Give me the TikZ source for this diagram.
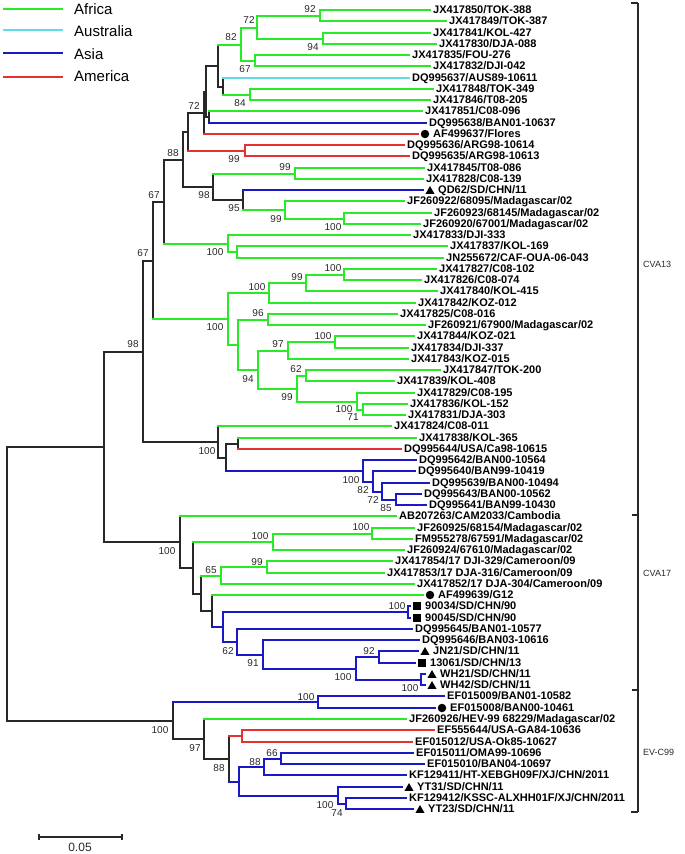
\documentclass[tikz,border=0pt]{standalone}
\usepackage{fontspec}
\setmainfont{Liberation Sans}
\usetikzlibrary{calc,shapes.geometric}
\definecolor{cgC}{RGB}{40,235,40}
\definecolor{ccC}{RGB}{95,222,232}
\definecolor{cbC}{RGB}{25,25,200}
\definecolor{crC}{RGB}{228,50,50}
\definecolor{ckC}{RGB}{40,40,40}
\definecolor{txC}{RGB}{40,40,40}
\tikzset{
  br/.style={line width=1.2pt,line cap=rect},
  cg/.style={draw=cgC}, cc/.style={draw=ccC}, cb/.style={draw=cbC},
  cr/.style={draw=crC}, ck/.style={draw=ckC},
  leaf/.style={anchor=west,inner sep=0pt,text height=7.9pt,text depth=0pt,
    font=\fontsize{11}{13}\selectfont\bfseries,text=black},
  bsl/.style={inner sep=0pt,font=\fontsize{10}{12}\selectfont,text=txC},
  mcirc/.style={circle,fill=black,inner sep=0pt,minimum size=8.5pt},
  msq/.style={rectangle,fill=black,inner sep=0pt,minimum size=8pt},
  mtri/.style={regular polygon,regular polygon sides=3,fill=black,inner sep=0pt,minimum size=10.5pt,yshift=-1.3pt},
  lgline/.style={line width=1.3pt},
  lgtext/.style={anchor=west,inner sep=0pt,text height=10.7pt,text depth=0pt,font=\fontsize{15}{17}\selectfont},
  brk/.style={draw=ckC,line width=1.3pt},
  clade/.style={anchor=west,inner sep=0pt,text height=6.5pt,text depth=0pt,font=\fontsize{9}{11}\selectfont,text=txC},
}
\newcommand{\leafx}[4]{%
  \coordinate (#1) at ({#3},{round(10+(#2-1)*11.254)});
  \node[leaf] (t#1) at ([xshift=3pt]#1) {#4};}
\newcommand{\leafm}[5]{%
  \coordinate (#1) at ({#3},{round(10+(#2-1)*11.254)});
  \node[#4] (m#1) at ([xshift=7pt]#1) {};
  \node[leaf] (t#1) at ([xshift=15pt]#1) {#5};}
\newcommand{\edgex}[4]{%
  \draw[br,#3] (#1) -- (#1 |- #2);
  \draw[br,#4] (#1 |- #2) -- (#2);}
\newcommand{\inode}[7]{%
  \path let \p1=($(#3)!.5!(#4)$), \n1={round(-(\y1))} in coordinate (#1) at ({(#2)*1pt},{-\n1});
  \edgex{#1}{#3}{#5}{#6}\edgex{#1}{#4}{#5}{#7}}
\newcommand{\blab}[4]{\node[bsl] (#1) at (#2,#3) {#4};}
\begin{document}
\begin{tikzpicture}[x=1pt,y=-1pt]
\useasboundingbox (0,0) rectangle (685,854);
% ---------------- leaves
\leafx{L1}{1}{430}{JX417850/TOK-388}
\leafx{L2}{2}{446}{JX417849/TOK-387}
\leafx{L3}{3}{430}{JX417841/KOL-427}
\leafx{L4}{4}{436}{JX417830/DJA-088}
\leafx{L5}{5}{409}{JX417835/FOU-276}
\leafx{L6}{6}{430}{JX417832/DJI-042}
\leafx{L7}{7}{409}{DQ995637/AUS89-10611}
\leafx{L8}{8}{433}{JX417848/TOK-349}
\leafx{L9}{9}{430}{JX417846/T08-205}
\leafx{L10}{10}{422}{JX417851/C08-096}
\leafx{L11}{11}{426}{DQ995638/BAN01-10637}
\leafm{L12}{12}{418}{mcirc}{AF499637/Flores}
\leafx{L13}{13}{404}{DQ995636/ARG98-10614}
\leafx{L14}{14}{409}{DQ995635/ARG98-10613}
\leafx{L15}{15}{424}{JX417845/T08-086}
\leafx{L16}{16}{423}{JX417828/C08-139}
\leafm{L17}{17}{423}{mtri}{QD62/SD/CHN/11}
\leafx{L18}{18}{404}{JF260922/68095/Madagascar/02}
\leafx{L19}{19}{431}{JF260923/68145/Madagascar/02}
\leafx{L20}{20}{420}{JF260920/67001/Madagascar/02}
\leafx{L21}{21}{410}{JX417833/DJI-333}
\leafx{L22}{22}{447}{JX417837/KOL-169}
\leafx{L23}{23}{443}{JN255672/CAF-OUA-06-043}
\leafx{L24}{24}{436}{JX417827/C08-102}
\leafx{L25}{25}{421}{JX417826/C08-074}
\leafx{L26}{26}{437}{JX417840/KOL-415}
\leafx{L27}{27}{415}{JX417842/KOZ-012}
\leafx{L28}{28}{397}{JX417825/C08-016}
\leafx{L29}{29}{425}{JF260921/67900/Madagascar/02}
\leafx{L30}{30}{414}{JX417844/KOZ-021}
\leafx{L31}{31}{408}{JX417834/DJI-337}
\leafx{L32}{32}{408}{JX417843/KOZ-015}
\leafx{L33}{33}{440}{JX417847/TOK-200}
\leafx{L34}{34}{394}{JX417839/KOL-408}
\leafx{L35}{35}{414}{JX417829/C08-195}
\leafx{L36}{36}{407}{JX417836/KOL-152}
\leafx{L37}{37}{405}{JX417831/DJA-303}
\leafx{L38}{38}{391}{JX417824/C08-011}
\leafx{L39}{39}{416}{JX417838/KOL-365}
\leafx{L40}{40}{401}{DQ995644/USA/Ca98-10615}
\leafx{L41}{41}{416}{DQ995642/BAN00-10564}
\leafx{L42}{42}{415}{DQ995640/BAN99-10419}
\leafx{L43}{43}{429}{DQ995639/BAN00-10494}
\leafx{L44}{44}{421}{DQ995643/BAN00-10562}
\leafx{L45}{45}{426}{DQ995641/BAN99-10430}
\leafx{L46}{46}{396}{AB207263/CAM2033/Cambodia}
\leafx{L47}{47}{414}{JF260925/68154/Madagascar/02}
\leafx{L48}{48}{412}{FM955278/67591/Madagascar/02}
\leafx{L49}{49}{404}{JF260924/67610/Madagascar/02}
\leafx{L50}{50}{392}{JX417854/17 DJI-329/Cameroon/09}
\leafx{L51}{51}{384}{JX417853/17 DJA-316/Cameroon/09}
\leafx{L52}{52}{414}{JX417852/17 DJA-304/Cameroon/09}
\leafm{L53}{53}{423}{mcirc}{AF499639/G12}
\leafm{L54}{54}{410}{msq}{90034/SD/CHN/90}
\leafm{L55}{55}{410}{msq}{90045/SD/CHN/90}
\leafx{L56}{56}{412}{DQ995645/BAN01-10577}
\leafx{L57}{57}{419}{DQ995646/BAN03-10616}
\leafm{L58}{58}{418}{mtri}{JN21/SD/CHN/11}
\leafm{L59}{59}{415}{msq}{13061/SD/CHN/13}
\leafm{L60}{60}{425}{mtri}{WH21/SD/CHN/11}
\leafm{L61}{61}{425}{mtri}{WH42/SD/CHN/11}
\leafx{L62}{62}{444}{EF015009/BAN01-10582}
\leafm{L63}{63}{435}{mcirc}{EF015008/BAN00-10461}
\leafx{L64}{64}{406}{JF260926/HEV-99 68229/Madagascar/02}
\leafx{L65}{65}{434}{EF555644/USA-GA84-10636}
\leafx{L66}{66}{412}{EF015012/USA-Ok85-10627}
\leafx{L67}{67}{413}{EF015011/OMA99-10696}
\leafx{L68}{68}{424}{EF015010/BAN04-10697}
\leafx{L69}{69}{406}{KF129411/HT-XEBGH09F/XJ/CHN/2011}
\leafm{L70}{70}{402}{mtri}{YT31/SD/CHN/11}
\leafx{L71}{71}{406}{KF129412/KSSC-ALXHH01F/XJ/CHN/2011}
\leafm{L72}{72}{413}{mtri}{YT23/SD/CHN/11}
% ---------------- internal nodes: CVA13
\inode{n92}{320}{L1}{L2}{cg}{cg}{cg}
\inode{n94}{323}{L3}{L4}{cg}{cg}{cg}
\inode{n72a}{257}{n92}{n94}{cg}{cg}{cg}
\inode{n67a}{255}{L5}{L6}{cg}{cg}{cg}
\inode{n82}{241}{n72a}{n67a}{cg}{cg}{cg}
\inode{n84}{250}{L8}{L9}{cg}{cg}{cg}
\inode{nAUS}{223}{L7}{n84}{ck}{cc}{cg}
\inode{nA1}{218}{n82}{nAUS}{ck}{cg}{ck}
\inode{nB}{209}{L10}{L11}{ck}{cg}{cb}
\inode{nA}{206}{nA1}{nB}{ck}{ck}{ck}
\inode{nC}{204}{nA}{L12}{ck}{ck}{cr}
\inode{nARG}{245}{L13}{L14}{cr}{cr}{cr}
\inode{nD}{188}{nC}{nARG}{ck}{ck}{cr}
\inode{n99T}{295}{L15}{L16}{cg}{cg}{cg}
\inode{n100M}{344}{L19}{L20}{cg}{cg}{cg}
\inode{n99M}{285}{L18}{n100M}{cg}{cg}{cg}
\inode{n95}{243}{L17}{n99M}{ck}{cb}{cg}
\inode{n98b}{213}{n99T}{n95}{ck}{cg}{ck}
\inode{nE}{183}{nD}{n98b}{ck}{ck}{ck}
\inode{nKOL}{237}{L22}{L23}{cg}{cg}{cg}
\inode{n100D}{228}{L21}{nKOL}{cg}{cg}{cg}
\inode{nF}{164}{nE}{n100D}{ck}{ck}{cg}
\inode{n100C}{344}{L24}{L25}{cg}{cg}{cg}
\inode{n99C}{306}{n100C}{L26}{cg}{cg}{cg}
\inode{n100K}{269}{n99C}{L27}{cg}{cg}{cg}
\inode{n96}{268}{L28}{L29}{cg}{cg}{cg}
\inode{n100Z}{335}{L30}{L31}{cg}{cg}{cg}
\inode{n97}{288}{n100Z}{L32}{cg}{cg}{cg}
\inode{n62}{306}{L33}{L34}{cg}{cg}{cg}
\inode{n71}{363}{L36}{L37}{cg}{cg}{cg}
\inode{n100L}{357}{L35}{n71}{cg}{cg}{cg}
\inode{n99L}{297}{n62}{n100L}{cg}{cg}{cg}
\inode{n94L}{258}{n97}{n99L}{cg}{cg}{cg}
\inode{n238}{238}{n96}{n94L}{cg}{cg}{cg}
\inode{n100G}{228}{n100K}{n238}{cg}{cg}{cg}
\inode{nG}{153}{nF}{n100G}{ck}{ck}{cg}
\inode{nKU}{238}{L39}{L40}{ck}{cg}{cr}
\inode{n85}{396}{L44}{L45}{cb}{cb}{cb}
\inode{n72B}{382}{L43}{n85}{cb}{cb}{cb}
\inode{n82B}{373}{L42}{n72B}{cb}{cb}{cb}
\inode{n100B}{363}{L41}{n82B}{cb}{cb}{cb}
\inode{n226}{226}{nKU}{n100B}{ck}{ck}{cb}
\inode{n218}{218}{L38}{n226}{ck}{cg}{ck}
\inode{nH}{143}{nG}{n218}{ck}{ck}{ck}
% ---------------- CVA17
\inode{n100F}{372}{L47}{L48}{cg}{cg}{cg}
\inode{n273}{273}{n100F}{L49}{cg}{cg}{cg}
\inode{n99C2}{267}{L50}{L51}{cg}{cg}{cg}
\inode{n65}{221}{n99C2}{L52}{cg}{cg}{cg}
\inode{n100S}{408}{L54}{L55}{cb}{cb}{cb}
\inode{n92J}{379}{L58}{L59}{cb}{cb}{cb}
\inode{n100W}{421}{L60}{L61}{cb}{cb}{cb}
\inode{n100J}{356}{n92J}{n100W}{cb}{cb}{cb}
\inode{n91}{263}{L57}{n100J}{cb}{cb}{cb}
\inode{n62J}{237}{L56}{n91}{cb}{cb}{cb}
\inode{n223}{223}{n100S}{n62J}{cb}{cb}{cb}
\inode{n212}{212}{L53}{n223}{ck}{cg}{cb}
\inode{n201}{201}{n65}{n212}{ck}{cg}{ck}
\inode{n193}{193}{n273}{n201}{ck}{cg}{ck}
\inode{n180}{180}{L46}{n193}{ck}{cg}{ck}
\inode{nTop}{104}{nH}{n180}{ck}{ck}{ck}
% ---------------- EV-C99
\inode{n100E}{318}{L62}{L63}{cb}{cb}{cb}
\inode{n242}{242}{L65}{L66}{cr}{cr}{cr}
\inode{n66}{281}{L67}{L68}{cb}{cb}{cb}
\inode{n88b}{264}{n66}{L69}{cb}{cb}{cb}
\inode{n74}{346}{L71}{L72}{cb}{cb}{cb}
\inode{n100Y}{338}{L70}{n74}{cb}{cb}{cb}
\inode{n239}{239}{n88b}{n100Y}{cb}{cb}{cb}
\inode{n88}{229}{n242}{n239}{ck}{cr}{cb}
\inode{n97E}{204}{L64}{n88}{ck}{cg}{ck}
\inode{n173}{173}{n100E}{n97E}{ck}{cb}{ck}
\inode{root}{7}{nTop}{n173}{ck}{ck}{ck}
% ---------------- bootstrap values
\blab{b1}{310}{9}{92}
\blab{b2}{249}{20}{72}
\blab{b3}{231}{37}{82}
\blab{b4}{313}{47}{94}
\blab{b5}{245}{69}{67}
\blab{b6}{240}{103}{84}
\blab{b7}{194}{106}{72}
\blab{b8}{173}{153}{88}
\blab{b9}{234}{159}{99}
\blab{b10}{285}{167}{99}
\blab{b11}{154}{195}{67}
\blab{b12}{204}{195}{98}
\blab{b13}{234}{208}{95}
\blab{b14}{276}{219}{99}
\blab{b15}{333}{227}{100}
\blab{b16}{215}{252}{100}
\blab{b17}{143}{253}{67}
\blab{b18}{333}{268}{100}
\blab{b19}{297}{277}{99}
\blab{b20}{257}{287}{100}
\blab{b21}{258}{313}{96}
\blab{b22}{215}{327}{100}
\blab{b23}{323}{336}{100}
\blab{b24}{278}{344}{97}
\blab{b25}{133}{344}{98}
\blab{b26}{296}{369}{62}
\blab{b27}{248}{379}{94}
\blab{b28}{287}{397}{99}
\blab{b29}{344}{409}{100}
\blab{b30}{353}{417}{71}
\blab{b31}{207}{451}{100}
\blab{b32}{351}{480}{100}
\blab{b33}{363}{490}{82}
\blab{b34}{373}{500}{72}
\blab{b35}{386}{508}{85}
\blab{b36}{361}{527}{100}
\blab{b37}{260}{536}{100}
\blab{b38}{167}{551}{100}
\blab{b39}{257}{562}{99}
\blab{b40}{211}{570}{65}
\blab{b41}{397}{606}{100}
\blab{b42}{228}{651}{62}
\blab{b43}{369}{651}{92}
\blab{b44}{253}{663}{91}
\blab{b45}{343}{677}{100}
\blab{b46}{410}{688}{100}
\blab{b47}{306}{697}{100}
\blab{b48}{160}{730}{100}
\blab{b49}{195}{748}{97}
\blab{b50}{272}{753}{66}
\blab{b51}{255}{762}{88}
\blab{b52}{219}{768}{88}
\blab{b53}{325}{805}{100}
\blab{b54}{337}{813}{74}
% ---------------- legend
\coordinate (lg1a) at (3,9);  \coordinate (lg1b) at (63,9);
\coordinate (lg2a) at (3,30); \coordinate (lg2b) at (63,30);
\coordinate (lg3a) at (3,53); \coordinate (lg3b) at (63,53);
\coordinate (lg4a) at (3,77); \coordinate (lg4b) at (63,77);
\draw[lgline,cg] (lg1a) -- (lg1b);
\draw[lgline,cc] (lg2a) -- (lg2b);
\draw[lgline,cb] (lg3a) -- (lg3b);
\draw[lgline,cr] (lg4a) -- (lg4b);
\node[lgtext] (lg1t) at (74,9) {Africa};
\node[lgtext] (lg2t) at (74,31) {Australia};
\node[lgtext] (lg3t) at (74,54) {Asia};
\node[lgtext] (lg4t) at (74,76) {America};
% ---------------- clade bracket
\coordinate (k0) at (638,3);
\coordinate (k1) at (638,515);
\coordinate (k2) at (638,690);
\coordinate (k3) at (638,812);
\draw[brk] (k0) -- (k3);
\draw[brk] (k0) -- ++(-7,0);
\draw[brk] (k3) -- ++(-7,0);
\draw[brk,line width=2.4pt] (k1) -- ++(-6.5,0);
\draw[brk,line width=2.4pt] (k2) -- ++(-6.5,0);
\node[clade] (cl1) at (643,264) {CVA13};
\node[clade] (cl2) at (643,573) {CVA17};
\node[clade] (cl3) at (643,752) {EV-C99};
% ---------------- scale bar
\coordinate (sb1) at (39,837);
\coordinate (sb2) at (122,837);
\draw[brk,line width=1.2pt] (sb1) -- (sb2);
\draw[brk,line width=1.2pt] ([yshift=2.7pt]sb1) -- ([yshift=-2.7pt]sb1);
\draw[brk,line width=1.2pt] ([yshift=2.7pt]sb2) -- ([yshift=-2.7pt]sb2);
\node[bsl,font=\fontsize{12}{14}\selectfont] (sbt) at (80,847) {0.05};
\end{tikzpicture}
\end{document}
